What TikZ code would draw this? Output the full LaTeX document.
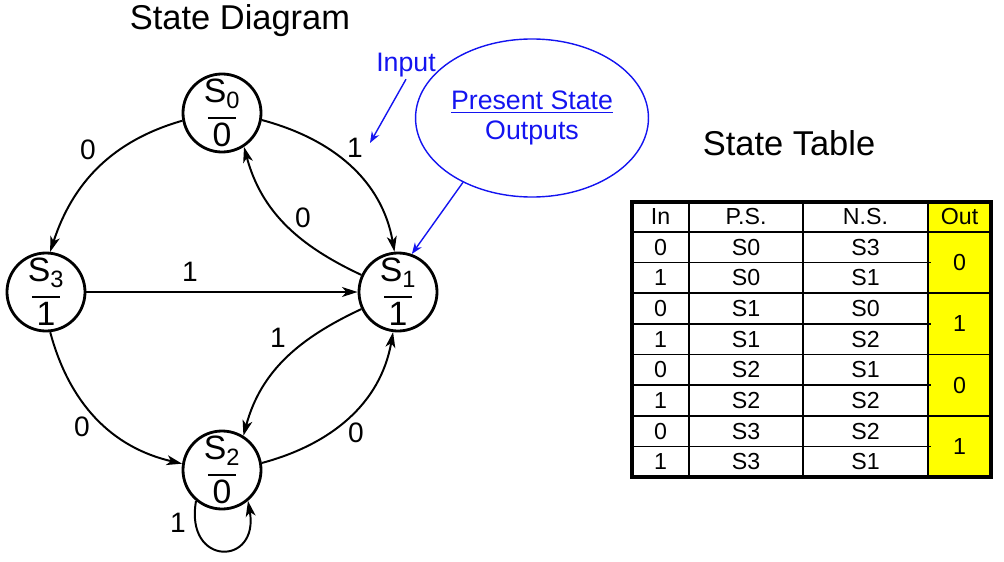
\documentclass[tikz,border=0pt]{standalone}
\usepackage{fontspec}
\setmainfont{Liberation Sans}
\usepackage{xcolor}
\usepackage{tikz}
\usetikzlibrary{arrows.meta, shapes.geometric, positioning}

\definecolor{noteblue}{RGB}{20,20,240}
\definecolor{outyellow}{RGB}{255,255,0}

\tikzset{
  %% State circle
  state/.style={
    circle, draw, line width=2pt,
    minimum size=1.95cm, inner sep=0pt,
    align=center, font=\fontsize{24}{26}\selectfont
  },
  %% Transition arrow
  trans/.style={-{Stealth[length=11pt,width=7pt,inset=3pt]},
                draw=black, line width=1.4pt},
  %% Edge label
  elab/.style={font=\fontsize{20}{22}\selectfont, inner sep=0pt},
  %% Blue annotation
  note/.style={text=noteblue, font=\fontsize{19}{21}\selectfont,
               inner sep=1pt},
  notearr/.style={-{Stealth[length=8pt,width=6pt]},
                  draw=noteblue, line width=1pt},
  %% Table cell text
  cell/.style={font=\fontsize{16.5}{18}\selectfont, inner sep=0pt},
  %% Headings
  ttl/.style={font=\fontsize{24.5}{27}\selectfont, anchor=base},
}

%% state text: name over output
\newcommand{\stlab}[2]{S\textsubscript{#1}\\[-14.4pt]\rule{0.7cm}{1.4pt}\\[-6.6pt]#2}

\begin{document}
\begin{tikzpicture}[x=0.025cm, y=0.025cm]
  \useasboundingbox (0,0) rectangle (1004,561);

  %% Headings
  \node[ttl] (dtitle) at (240,531) {State Diagram};
  \node[ttl] (ttitle) at (789,405) {State Table};

  %% States
  \node[state] (s0) at (222,448) {\stlab{0}{0}};
  \node[state] (s1) at (398,269) {\stlab{1}{1}};
  \node[state] (s3) at (46,269)  {\stlab{3}{1}};
  \node[state] (s2) at (222,91)  {\stlab{2}{0}};

  %% Transitions
  \draw[trans] (s0.191) to[out=196, in=72] (s3.84);
  \draw[trans] (s0.-10) to[out=-15, in=100] (s1.95);
  \draw[trans] (s1.155) to[out=155, in=-75] (s0.-57);
  \draw[trans] (s3) -- (s1);
  \draw[trans] (s3.-84) to[out=-75, in=167] (s2.171);
  \draw[trans] (s1.205) to[out=205, in=75] (s2.58);
  \draw[trans] (s2.10) to[out=15, in=-100] (s1.-97);
  \draw[trans] (s2.-130) to[out=-100, in=-80, looseness=3.3] (s2.-50);

  %% Transition labels
  \node[elab] (la) at (88,411)  {0};
  \node[elab] (lb) at (355,413) {1};
  \node[elab] (lc) at (303,343) {0};
  \node[elab] (ld) at (190,289) {1};
  \node[elab] (le) at (82,134)  {0};
  \node[elab] (lf) at (278,223) {1};
  \node[elab] (lg) at (356,128) {0};
  \node[elab] (lh) at (178,38)  {1};

  %% Annotations
  \node[note, anchor=base] (inp) at (406,489) {Input};
  \coordinate (inptip) at (370,418);
  \draw[notearr] (inp.south) -- (inptip);

  \node[note, ellipse, draw=noteblue, line width=1pt,
        minimum width=4.45cm, minimum height=3.95cm, align=center]
       (ps) at (532,443) {\underline{Present State}\\Outputs};
  \draw[notearr] (ps.-137) -- (s1.70);

  %% State table: output column fill
  \fill[outyellow] (928,84) rectangle (991,359);

  %% Lines inside pairs
  \draw[line width=1.1pt] (632,298.375) -- (931,298.375);
  \draw[line width=1.1pt] (632,237.125) -- (931,237.125);
  \draw[line width=1.1pt] (632,175.875) -- (931,175.875);
  \draw[line width=1.1pt] (632,114.625) -- (931,114.625);
  %% Lines between pairs
  \draw[line width=1.4pt] (632,267.75) -- (991,267.75);
  \draw[line width=1.4pt] (632,206.5)  -- (991,206.5);
  \draw[line width=1.4pt] (632,145.25) -- (991,145.25);
  %% Header line and columns
  \draw[line width=2.1pt] (632,329) -- (991,329);
  \draw[line width=1.4pt] (689,84) -- (689,359);
  \draw[line width=2.1pt] (803,84) -- (803,359);
  \draw[line width=1.4pt] (928,84) -- (928,359);
  \draw[line width=2.4pt] (632,84) rectangle (991,359);

  %% Header
  \node[cell] (hin)  at (660.5,344) {In};
  \node[cell] (hps)  at (746,344)   {P.S.};
  \node[cell] (hns)  at (865.5,344) {N.S.};
  \node[cell] (hout) at (959.5,344) {Out};

  %% Rows
  \node[cell] (in1) at (660.5,313.7) {0}; \node[cell] (ps1) at (746,313.7) {S0}; \node[cell] (ns1) at (865.5,313.7) {S3};
  \node[cell] (in2) at (660.5,283.1) {1}; \node[cell] (ps2) at (746,283.1) {S0}; \node[cell] (ns2) at (865.5,283.1) {S1};
  \node[cell] (in3) at (660.5,252.4) {0}; \node[cell] (ps3) at (746,252.4) {S1}; \node[cell] (ns3) at (865.5,252.4) {S0};
  \node[cell] (in4) at (660.5,221.8) {1}; \node[cell] (ps4) at (746,221.8) {S1}; \node[cell] (ns4) at (865.5,221.8) {S2};
  \node[cell] (in5) at (660.5,191.2) {0}; \node[cell] (ps5) at (746,191.2) {S2}; \node[cell] (ns5) at (865.5,191.2) {S1};
  \node[cell] (in6) at (660.5,160.6) {1}; \node[cell] (ps6) at (746,160.6) {S2}; \node[cell] (ns6) at (865.5,160.6) {S2};
  \node[cell] (in7) at (660.5,129.9) {0}; \node[cell] (ps7) at (746,129.9) {S3}; \node[cell] (ns7) at (865.5,129.9) {S2};
  \node[cell] (in8) at (660.5,99.3)  {1}; \node[cell] (ps8) at (746,99.3)  {S3}; \node[cell] (ns8) at (865.5,99.3)  {S1};

  %% Outputs, one per present state
  \node[cell] (out0) at (959.5,298.4) {0};
  \node[cell] (out1) at (959.5,237.1) {1};
  \node[cell] (out2) at (959.5,175.9) {0};
  \node[cell] (out3) at (959.5,114.6) {1};

\end{tikzpicture}
\end{document}
